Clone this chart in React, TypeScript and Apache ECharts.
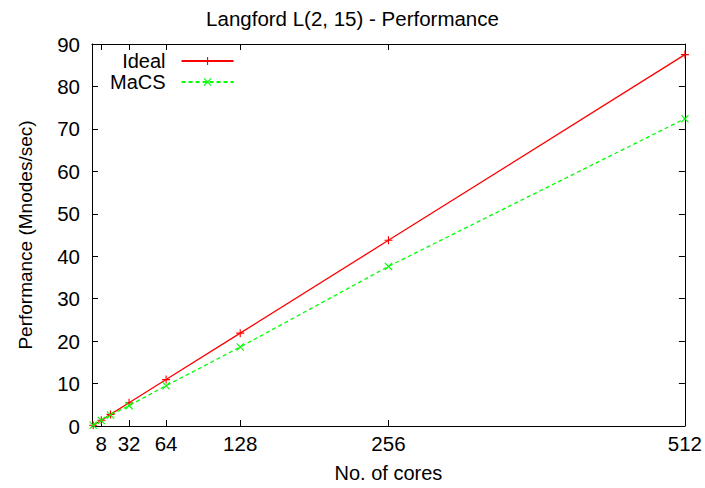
import React, { useEffect, useRef } from "react";
import * as echarts from "echarts";

// Measured throughput against core count
const cores = [1, 8, 16, 32, 64, 128, 256, 512];
const idealPerf = [0.17, 1.37, 2.73, 5.47, 10.94, 21.88, 43.75, 87.5];
const macsPerf = [0.16, 1.3, 2.6, 4.8, 9.5, 18.6, 37.6, 72.4];
const coreTicks = [8, 32, 64, 128, 256, 512];

const FONT = "Liberation Sans";
const PLUS = "path://M4.3,0h1.4v10h-1.4z M0,4.3h10v1.4h-10z";
const CROSS =
  "path://M0,1L1,0L10,9L9,10Z M9,0L10,1L1,10L0,9Z";

export default function App() {
  const ref = useRef<HTMLDivElement>(null);

  useEffect(() => {
    if (!ref.current) return;
    const chart = echarts.init(ref.current, null, { renderer: "svg" });
    const pairs = (ys: number[]) => cores.map((c, i) => [c, ys[i]]);
    const frame = { show: true, onZero: false, lineStyle: { color: "#000", width: 1 } };
    const tick = { show: true, inside: true, length: 6, lineStyle: { color: "#000" } };

    chart.setOption({
      animation: false,
      textStyle: { fontFamily: FONT },
      title: {
        text: "Langford L(2, 15) - Performance",
        left: "center",
        top: 3,
        textStyle: { fontFamily: FONT, fontSize: 20.5, fontWeight: "normal", color: "#000" },
      },
      legend: {
        orient: "vertical",
        left: 105,
        top: 46,
        align: "right",
        itemWidth: 52,
        itemHeight: 10,
        itemGap: 1,
        textStyle: {
          fontFamily: FONT,
          fontSize: 20,
          color: "#000",
          width: 58,
          align: "right",
          padding: [0, 11, 0, 0],
        },
        data: ["Ideal", "MaCS"],
      },
      grid: { left: 92, right: 20, top: 44, bottom: 62 },
      xAxis: [
        {
          type: "value",
          min: 0,
          max: 512,
          position: "bottom",
          name: "No. of cores",
          nameLocation: "middle",
          nameGap: 37,
          nameTextStyle: { fontFamily: FONT, fontSize: 20, color: "#000" },
          axisLine: frame,
          axisTick: { ...tick, customValues: coreTicks },
          axisLabel: {
            customValues: coreTicks,
            fontFamily: FONT,
            fontSize: 20.5,
            color: "#000",
            margin: 7,
          },
          splitLine: { show: false },
        },
        {
          type: "value",
          min: 0,
          max: 512,
          position: "top",
          axisLine: frame,
          axisTick: { ...tick, customValues: coreTicks },
          axisLabel: { show: false },
          splitLine: { show: false },
        },
      ],
      yAxis: [
        {
          type: "value",
          min: 0,
          max: 90,
          interval: 10,
          position: "left",
          name: "Performance (Mnodes/sec)",
          nameLocation: "middle",
          nameGap: 57,
          nameTextStyle: { fontFamily: FONT, fontSize: 19, color: "#000" },
          axisLine: frame,
          axisTick: tick,
          axisLabel: { fontFamily: FONT, fontSize: 20.5, color: "#000", margin: 12 },
          splitLine: { show: false },
        },
        {
          type: "value",
          min: 0,
          max: 90,
          interval: 10,
          position: "right",
          axisLine: frame,
          axisTick: tick,
          axisLabel: { show: false },
          splitLine: { show: false },
        },
      ],
      series: [
        {
          name: "Ideal",
          type: "line",
          data: pairs(idealPerf),
          symbol: PLUS,
          symbolSize: 8,
          color: "#ff0000",
          lineStyle: { color: "#ff0000", width: 1.3 },
          itemStyle: { color: "#ff0000" },
        },
        {
          name: "MaCS",
          type: "line",
          data: pairs(macsPerf),
          symbol: CROSS,
          symbolSize: 8,
          color: "#00ff00",
          lineStyle: { color: "#00ff00", width: 1.3, type: [4, 3] },
          itemStyle: { color: "#00ff00" },
        },
      ],
    });

    return () => chart.dispose();
  }, []);

  return (
    <div
      ref={ref}
      style={{ position: "absolute", left: 0, top: 0, width: 705, height: 488 }}
    />
  );
}
